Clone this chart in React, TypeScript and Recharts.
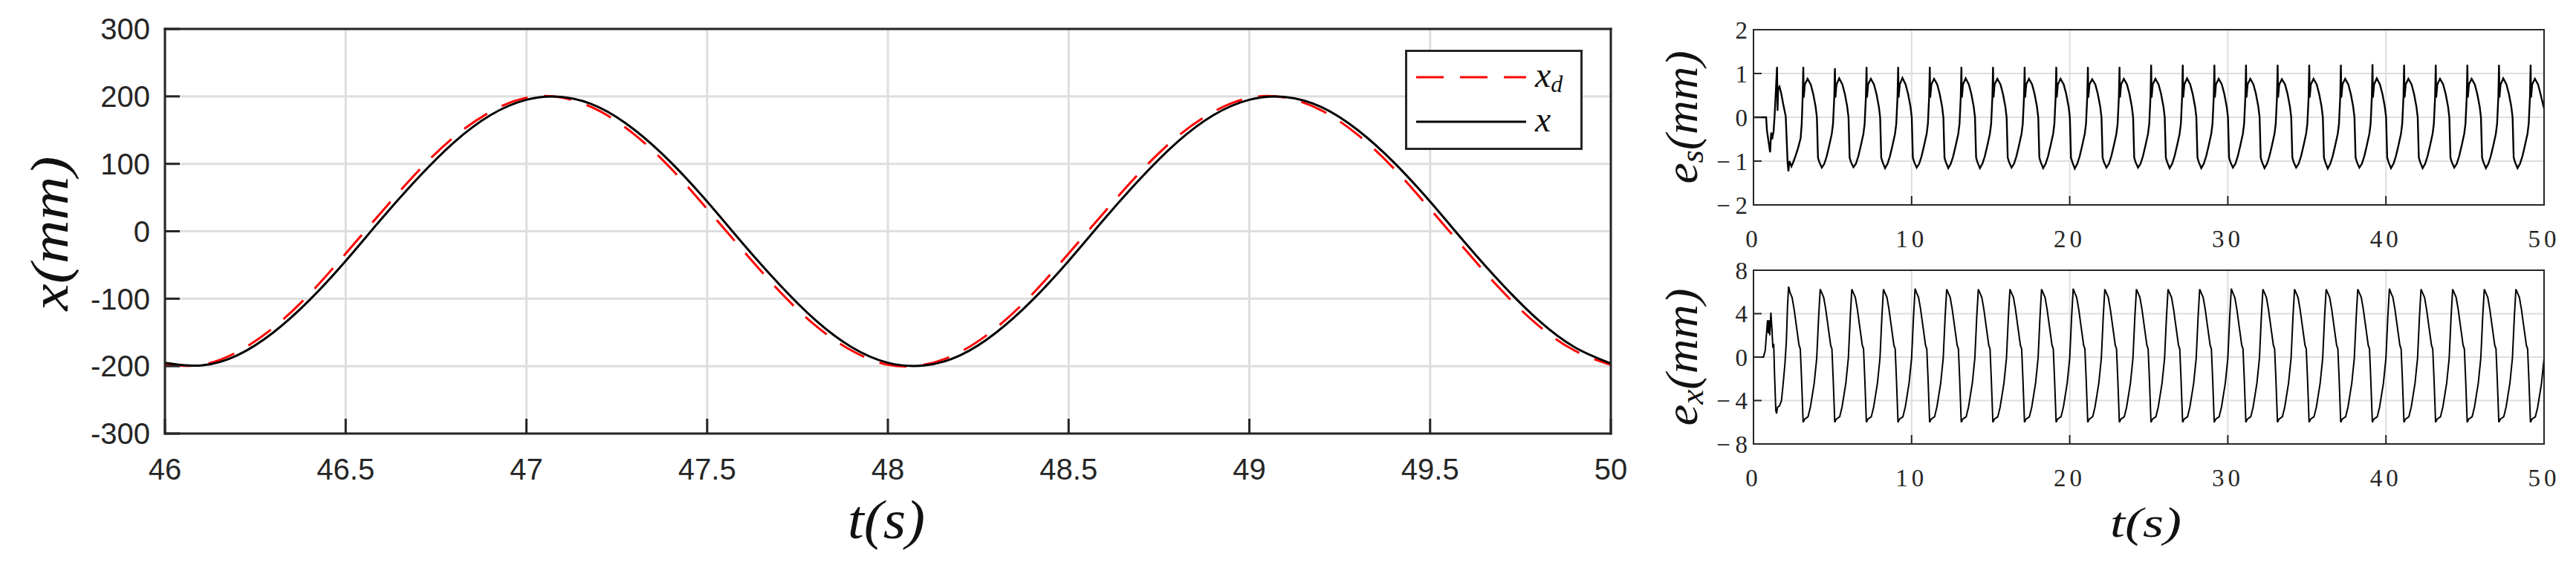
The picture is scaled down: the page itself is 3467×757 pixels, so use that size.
import { LineChart, Line, XAxis, YAxis, CartesianGrid, Legend, Label } from "recharts";

// main plot: desired vs measured position, 46..50 s
const tMain = [
  46.0, 46.1, 46.2, 46.3, 46.4, 46.5, 46.6, 46.7, 46.8, 46.9,
  47.0, 47.1, 47.2, 47.3, 47.4, 47.5, 47.6, 47.7, 47.8, 47.9,
  48.0, 48.1, 48.2, 48.3, 48.4, 48.5, 48.6, 48.7, 48.8, 48.9,
  49.0, 49.1, 49.2, 49.3, 49.4, 49.5, 49.6, 49.7, 49.8, 49.9,
  50.0,
];
const xDesired = [
  -198, -198, -179, -143, -93, -33, 29, 89, 140, 177,
  198, 198, 179, 143, 93, 33, -29, -89, -140, -177,
  -198, -198, -179, -143, -93, -33, 29, 89, 140, 177,
  198, 198, 179, 143, 93, 33, -29, -89, -140, -177,
  -198,
];
const xActual = [
  -195, -199, -184, -150, -102, -44, 19, 79, 132, 172,
  195, 199, 184, 150, 102, 44, -19, -79, -132, -172,
  -195, -199, -184, -150, -102, -44, 19, 79, 132, 172,
  195, 199, 184, 150, 102, 44, -19, -79, -132, -172,
  -196,
];
const mainXTicks = [46, 46.5, 47, 47.5, 48, 48.5, 49, 49.5, 50];
const mainYTicks = [-300, -200, -100, 0, 100, 200, 300];

// small plots, 0..50 s
const errTicks = [0, 10, 20, 30, 40, 50];
const esTicks = [-2, -1, 0, 1, 2];
const exTicks = [-8, -4, 0, 4, 8];

// e_s (mm), [t, value]
const esSamples: [number, number][] = [
  [0, 0], [0.8, 0], [0.85, -0.3], [0.95, -0.55], [1.05, -0.8], [1.12, -0.35], [1.18, -0.5], [1.27, -0.32], [1.33, 0], [1.4, 0.5],
  [1.49, 1.15], [1.52, 0.15], [1.56, 0.65], [1.64, 0.7], [1.75, 0.55], [1.88, 0.3], [2.04, 0.02], [2.16, -1.05], [2.21, -1.23], [2.27, -1.0],
  [2.4, -1.12], [2.51, -1.03], [2.66, -0.88], [2.82, -0.7], [2.98, -0.48], [3.05, -0.15], [3.11, 0.47],
  [3.15, 1.15], [3.18, 0.45], [3.25, 0.75], [3.42, 0.88], [3.62, 0.75], [3.78, 0.53], [3.93, 0.24], [4.01, 0], [4.08, -0.92], [4.16, -1.02], [4.32, -1.15], [4.48, -1.06], [4.63, -0.89], [4.78, -0.66], [4.95, -0.38], [5.03, -0.15], [5.11, 0.47],
  [5.15, 1.12], [5.18, 0.45], [5.25, 0.75], [5.42, 0.89], [5.62, 0.75], [5.78, 0.53], [5.93, 0.24], [6.01, 0], [6.08, -0.92], [6.16, -1.02], [6.32, -1.14], [6.48, -1.06], [6.63, -0.89], [6.78, -0.66], [6.95, -0.38], [7.03, -0.15], [7.11, 0.47],
  [7.15, 1.15], [7.18, 0.45], [7.25, 0.75], [7.42, 0.88], [7.62, 0.75], [7.78, 0.53], [7.93, 0.24], [8.01, 0], [8.08, -0.92], [8.16, -1.02], [8.32, -1.16], [8.48, -1.06], [8.63, -0.89], [8.78, -0.66], [8.95, -0.38], [9.03, -0.15], [9.11, 0.47],
  [9.15, 1.15], [9.18, 0.45], [9.25, 0.75], [9.42, 0.9], [9.62, 0.75], [9.78, 0.53], [9.93, 0.24], [10.01, 0], [10.08, -0.92], [10.16, -1.02], [10.32, -1.15], [10.48, -1.06], [10.63, -0.89], [10.78, -0.66], [10.95, -0.38], [11.03, -0.15], [11.11, 0.47],
  [11.15, 1.15], [11.18, 0.45], [11.25, 0.75], [11.42, 0.88], [11.62, 0.75], [11.78, 0.53], [11.93, 0.24], [12.01, 0], [12.08, -0.92], [12.16, -1.02], [12.32, -1.16], [12.48, -1.06], [12.63, -0.89], [12.78, -0.66], [12.95, -0.38], [13.03, -0.15], [13.11, 0.47],
  [13.15, 1.15], [13.18, 0.45], [13.25, 0.75], [13.42, 0.89], [13.62, 0.75], [13.78, 0.53], [13.93, 0.24], [14.01, 0], [14.08, -0.92], [14.16, -1.02], [14.32, -1.16], [14.48, -1.06], [14.63, -0.89], [14.78, -0.66], [14.95, -0.38], [15.03, -0.15], [15.11, 0.47],
  [15.15, 1.15], [15.18, 0.45], [15.25, 0.75], [15.42, 0.88], [15.62, 0.75], [15.78, 0.53], [15.93, 0.24], [16.01, 0], [16.08, -0.92], [16.16, -1.02], [16.32, -1.15], [16.48, -1.06], [16.63, -0.89], [16.78, -0.66], [16.95, -0.38], [17.03, -0.15], [17.11, 0.47],
  [17.15, 1.15], [17.18, 0.45], [17.25, 0.75], [17.42, 0.88], [17.62, 0.75], [17.78, 0.53], [17.93, 0.24], [18.01, 0], [18.08, -0.92], [18.16, -1.02], [18.32, -1.16], [18.48, -1.06], [18.63, -0.89], [18.78, -0.66], [18.95, -0.38], [19.03, -0.15], [19.11, 0.47],
  [19.15, 1.15], [19.18, 0.45], [19.25, 0.75], [19.42, 0.88], [19.62, 0.75], [19.78, 0.53], [19.93, 0.24], [20.01, 0], [20.08, -0.92], [20.16, -1.02], [20.32, -1.17], [20.48, -1.06], [20.63, -0.89], [20.78, -0.66], [20.95, -0.38], [21.03, -0.15], [21.11, 0.47],
  [21.15, 1.15], [21.18, 0.45], [21.25, 0.75], [21.42, 0.87], [21.62, 0.75], [21.78, 0.53], [21.93, 0.24], [22.01, 0], [22.08, -0.92], [22.16, -1.02], [22.32, -1.15], [22.48, -1.06], [22.63, -0.89], [22.78, -0.66], [22.95, -0.38], [23.03, -0.15], [23.11, 0.47],
  [23.15, 1.15], [23.18, 0.45], [23.25, 0.75], [23.42, 0.88], [23.62, 0.75], [23.78, 0.53], [23.93, 0.24], [24.01, 0], [24.08, -0.92], [24.16, -1.02], [24.32, -1.15], [24.48, -1.06], [24.63, -0.89], [24.78, -0.66], [24.95, -0.38], [25.03, -0.15], [25.11, 0.47],
  [25.15, 1.2], [25.18, 0.45], [25.25, 0.75], [25.42, 0.88], [25.62, 0.75], [25.78, 0.53], [25.93, 0.24], [26.01, 0], [26.08, -0.92], [26.16, -1.02], [26.32, -1.16], [26.48, -1.06], [26.63, -0.89], [26.78, -0.66], [26.95, -0.38], [27.03, -0.15], [27.11, 0.47],
  [27.15, 1.2], [27.18, 0.45], [27.25, 0.75], [27.42, 0.89], [27.62, 0.75], [27.78, 0.53], [27.93, 0.24], [28.01, 0], [28.08, -0.92], [28.16, -1.02], [28.32, -1.16], [28.48, -1.06], [28.63, -0.89], [28.78, -0.66], [28.95, -0.38], [29.03, -0.15], [29.11, 0.47],
  [29.15, 1.2], [29.18, 0.45], [29.25, 0.75], [29.42, 0.88], [29.62, 0.75], [29.78, 0.53], [29.93, 0.24], [30.01, 0], [30.08, -0.92], [30.16, -1.02], [30.32, -1.15], [30.48, -1.06], [30.63, -0.89], [30.78, -0.66], [30.95, -0.38], [31.03, -0.15], [31.11, 0.47],
  [31.15, 1.2], [31.18, 0.45], [31.25, 0.75], [31.42, 0.88], [31.62, 0.75], [31.78, 0.53], [31.93, 0.24], [32.01, 0], [32.08, -0.92], [32.16, -1.02], [32.32, -1.16], [32.48, -1.06], [32.63, -0.89], [32.78, -0.66], [32.95, -0.38], [33.03, -0.15], [33.11, 0.47],
  [33.15, 1.2], [33.18, 0.45], [33.25, 0.75], [33.42, 0.87], [33.62, 0.75], [33.78, 0.53], [33.93, 0.24], [34.01, 0], [34.08, -0.92], [34.16, -1.02], [34.32, -1.15], [34.48, -1.06], [34.63, -0.89], [34.78, -0.66], [34.95, -0.38], [35.03, -0.15], [35.11, 0.47],
  [35.15, 1.2], [35.18, 0.45], [35.25, 0.75], [35.42, 0.88], [35.62, 0.75], [35.78, 0.53], [35.93, 0.24], [36.01, 0], [36.08, -0.92], [36.16, -1.02], [36.32, -1.17], [36.48, -1.06], [36.63, -0.89], [36.78, -0.66], [36.95, -0.38], [37.03, -0.15], [37.11, 0.47],
  [37.15, 1.2], [37.18, 0.45], [37.25, 0.75], [37.42, 0.88], [37.62, 0.75], [37.78, 0.53], [37.93, 0.24], [38.01, 0], [38.08, -0.92], [38.16, -1.02], [38.32, -1.15], [38.48, -1.06], [38.63, -0.89], [38.78, -0.66], [38.95, -0.38], [39.03, -0.15], [39.11, 0.47],
  [39.15, 1.21], [39.18, 0.45], [39.25, 0.75], [39.42, 0.89], [39.62, 0.75], [39.78, 0.53], [39.93, 0.24], [40.01, 0], [40.08, -0.92], [40.16, -1.02], [40.32, -1.16], [40.48, -1.06], [40.63, -0.89], [40.78, -0.66], [40.95, -0.38], [41.03, -0.15], [41.11, 0.47],
  [41.15, 1.2], [41.18, 0.45], [41.25, 0.75], [41.42, 0.88], [41.62, 0.75], [41.78, 0.53], [41.93, 0.24], [42.01, 0], [42.08, -0.92], [42.16, -1.02], [42.32, -1.16], [42.48, -1.06], [42.63, -0.89], [42.78, -0.66], [42.95, -0.38], [43.03, -0.15], [43.11, 0.47],
  [43.15, 1.2], [43.18, 0.45], [43.25, 0.75], [43.42, 0.88], [43.62, 0.75], [43.78, 0.53], [43.93, 0.24], [44.01, 0], [44.08, -0.92], [44.16, -1.02], [44.32, -1.15], [44.48, -1.06], [44.63, -0.89], [44.78, -0.66], [44.95, -0.38], [45.03, -0.15], [45.11, 0.47],
  [45.15, 1.2], [45.18, 0.45], [45.25, 0.75], [45.42, 0.88], [45.62, 0.75], [45.78, 0.53], [45.93, 0.24], [46.01, 0], [46.08, -0.92], [46.16, -1.02], [46.32, -1.16], [46.48, -1.06], [46.63, -0.89], [46.78, -0.66], [46.95, -0.38], [47.03, -0.15], [47.11, 0.47],
  [47.15, 1.2], [47.18, 0.45], [47.25, 0.75], [47.42, 0.89], [47.62, 0.75], [47.78, 0.53], [47.93, 0.24], [48.01, 0], [48.08, -0.92], [48.16, -1.02], [48.32, -1.16], [48.48, -1.06], [48.63, -0.89], [48.78, -0.66], [48.95, -0.38], [49.03, -0.15], [49.11, 0.47],
  [49.15, 1.2], [49.18, 0.45], [49.25, 0.75], [49.42, 0.88], [49.62, 0.75], [49.78, 0.53], [49.93, 0.3], [50, 0.2],
];

// e_x (mm), [t, value]
const exSamples: [number, number][] = [
  [0, 0], [0.63, 0], [0.74, 0.6], [0.82, 2.1], [0.89, 3.4], [0.94, 2.2], [0.99, 3.4], [1.03, 2.0], [1.1, 4.1], [1.17, 2.5], [1.22, 1.0],
  [1.28, 1.1], [1.33, -1.5], [1.41, -4.9], [1.46, -5.2], [1.52, -4.6], [1.64, -4.5], [1.77, -4.0], [1.88, -2.4], [1.99, -0.6], [2.08, 1.5], [2.15, 4.6],
  [2.22, 6.5], [2.32, 5.9], [2.44, 5.5], [2.57, 4.4], [2.72, 2.8], [2.88, 1.1], [2.96, 0.75], [3.04, -2], [3.14, -6], [3.24, -5.7], [3.45, -5.5], [3.6, -4.6], [3.84, -2.4], [4, -0.1], [4.12, 3.7],
  [4.22, 6.25], [4.32, 5.9], [4.44, 5.5], [4.57, 4.4], [4.72, 2.8], [4.88, 1.1], [4.96, 0.75], [5.04, -2], [5.14, -6], [5.24, -5.7], [5.45, -5.5], [5.6, -4.6], [5.84, -2.4], [6, -0.1], [6.12, 3.7],
  [6.22, 6.25], [6.32, 5.9], [6.44, 5.5], [6.57, 4.4], [6.72, 2.8], [6.88, 1.1], [6.96, 0.75], [7.04, -2], [7.14, -6], [7.24, -5.7], [7.45, -5.5], [7.6, -4.6], [7.84, -2.4], [8, -0.1], [8.12, 3.7],
  [8.22, 6.25], [8.32, 5.9], [8.44, 5.5], [8.57, 4.4], [8.72, 2.8], [8.88, 1.1], [8.96, 0.75], [9.04, -2], [9.14, -6], [9.24, -5.7], [9.45, -5.5], [9.6, -4.6], [9.84, -2.4], [10, -0.1], [10.12, 3.7],
  [10.22, 6.3], [10.32, 5.9], [10.44, 5.5], [10.57, 4.4], [10.72, 2.8], [10.88, 1.1], [10.96, 0.75], [11.04, -2], [11.14, -6], [11.24, -5.7], [11.45, -5.5], [11.6, -4.6], [11.84, -2.4], [12, -0.1], [12.12, 3.7],
  [12.22, 6.25], [12.32, 5.9], [12.44, 5.5], [12.57, 4.4], [12.72, 2.8], [12.88, 1.1], [12.96, 0.75], [13.04, -2], [13.14, -6], [13.24, -5.7], [13.45, -5.5], [13.6, -4.6], [13.84, -2.4], [14, -0.1], [14.12, 3.7],
  [14.22, 6.25], [14.32, 5.9], [14.44, 5.5], [14.57, 4.4], [14.72, 2.8], [14.88, 1.1], [14.96, 0.75], [15.04, -2], [15.14, -6], [15.24, -5.7], [15.45, -5.5], [15.6, -4.6], [15.84, -2.4], [16, -0.1], [16.12, 3.7],
  [16.22, 6.25], [16.32, 5.9], [16.44, 5.5], [16.57, 4.4], [16.72, 2.8], [16.88, 1.1], [16.96, 0.75], [17.04, -2], [17.14, -6], [17.24, -5.7], [17.45, -5.5], [17.6, -4.6], [17.84, -2.4], [18, -0.1], [18.12, 3.7],
  [18.22, 6.25], [18.32, 5.9], [18.44, 5.5], [18.57, 4.4], [18.72, 2.8], [18.88, 1.1], [18.96, 0.75], [19.04, -2], [19.14, -6], [19.24, -5.7], [19.45, -5.5], [19.6, -4.6], [19.84, -2.4], [20, -0.1], [20.12, 3.7],
  [20.22, 6.3], [20.32, 5.9], [20.44, 5.5], [20.57, 4.4], [20.72, 2.8], [20.88, 1.1], [20.96, 0.75], [21.04, -2], [21.14, -6], [21.24, -5.7], [21.45, -5.5], [21.6, -4.6], [21.84, -2.4], [22, -0.1], [22.12, 3.7],
  [22.22, 6.25], [22.32, 5.9], [22.44, 5.5], [22.57, 4.4], [22.72, 2.8], [22.88, 1.1], [22.96, 0.75], [23.04, -2], [23.14, -6], [23.24, -5.7], [23.45, -5.5], [23.6, -4.6], [23.84, -2.4], [24, -0.1], [24.12, 3.7],
  [24.22, 6.25], [24.32, 5.9], [24.44, 5.5], [24.57, 4.4], [24.72, 2.8], [24.88, 1.1], [24.96, 0.75], [25.04, -2], [25.14, -6], [25.24, -5.7], [25.45, -5.5], [25.6, -4.6], [25.84, -2.4], [26, -0.1], [26.12, 3.7],
  [26.22, 6.25], [26.32, 5.9], [26.44, 5.5], [26.57, 4.4], [26.72, 2.8], [26.88, 1.1], [26.96, 0.75], [27.04, -2], [27.14, -6], [27.24, -5.7], [27.45, -5.5], [27.6, -4.6], [27.84, -2.4], [28, -0.1], [28.12, 3.7],
  [28.22, 6.25], [28.32, 5.9], [28.44, 5.5], [28.57, 4.4], [28.72, 2.8], [28.88, 1.1], [28.96, 0.75], [29.04, -2], [29.14, -6], [29.24, -5.7], [29.45, -5.5], [29.6, -4.6], [29.84, -2.4], [30, -0.1], [30.12, 3.7],
  [30.22, 6.3], [30.32, 5.9], [30.44, 5.5], [30.57, 4.4], [30.72, 2.8], [30.88, 1.1], [30.96, 0.75], [31.04, -2], [31.14, -6], [31.24, -5.7], [31.45, -5.5], [31.6, -4.6], [31.84, -2.4], [32, -0.1], [32.12, 3.7],
  [32.22, 6.25], [32.32, 5.9], [32.44, 5.5], [32.57, 4.4], [32.72, 2.8], [32.88, 1.1], [32.96, 0.75], [33.04, -2], [33.14, -6], [33.24, -5.7], [33.45, -5.5], [33.6, -4.6], [33.84, -2.4], [34, -0.1], [34.12, 3.7],
  [34.22, 6.25], [34.32, 5.9], [34.44, 5.5], [34.57, 4.4], [34.72, 2.8], [34.88, 1.1], [34.96, 0.75], [35.04, -2], [35.14, -6], [35.24, -5.7], [35.45, -5.5], [35.6, -4.6], [35.84, -2.4], [36, -0.1], [36.12, 3.7],
  [36.22, 6.25], [36.32, 5.9], [36.44, 5.5], [36.57, 4.4], [36.72, 2.8], [36.88, 1.1], [36.96, 0.75], [37.04, -2], [37.14, -6], [37.24, -5.7], [37.45, -5.5], [37.6, -4.6], [37.84, -2.4], [38, -0.1], [38.12, 3.7],
  [38.22, 6.25], [38.32, 5.9], [38.44, 5.5], [38.57, 4.4], [38.72, 2.8], [38.88, 1.1], [38.96, 0.75], [39.04, -2], [39.14, -6], [39.24, -5.7], [39.45, -5.5], [39.6, -4.6], [39.84, -2.4], [40, -0.1], [40.12, 3.7],
  [40.22, 6.3], [40.32, 5.9], [40.44, 5.5], [40.57, 4.4], [40.72, 2.8], [40.88, 1.1], [40.96, 0.75], [41.04, -2], [41.14, -6], [41.24, -5.7], [41.45, -5.5], [41.6, -4.6], [41.84, -2.4], [42, -0.1], [42.12, 3.7],
  [42.22, 6.25], [42.32, 5.9], [42.44, 5.5], [42.57, 4.4], [42.72, 2.8], [42.88, 1.1], [42.96, 0.75], [43.04, -2], [43.14, -6], [43.24, -5.7], [43.45, -5.5], [43.6, -4.6], [43.84, -2.4], [44, -0.1], [44.12, 3.7],
  [44.22, 6.25], [44.32, 5.9], [44.44, 5.5], [44.57, 4.4], [44.72, 2.8], [44.88, 1.1], [44.96, 0.75], [45.04, -2], [45.14, -6], [45.24, -5.7], [45.45, -5.5], [45.6, -4.6], [45.84, -2.4], [46, -0.1], [46.12, 3.7],
  [46.22, 6.25], [46.32, 5.9], [46.44, 5.5], [46.57, 4.4], [46.72, 2.8], [46.88, 1.1], [46.96, 0.75], [47.04, -2], [47.14, -6], [47.24, -5.7], [47.45, -5.5], [47.6, -4.6], [47.84, -2.4], [48, -0.1], [48.12, 3.7],
  [48.22, 6.25], [48.32, 5.9], [48.44, 5.5], [48.57, 4.4], [48.72, 2.8], [48.88, 1.1], [48.96, 0.75], [49.04, -2], [49.14, -6], [49.24, -5.7], [49.45, -5.5], [49.6, -4.6], [49.84, -2.4], [50, -0.1],
];

const mainData = tMain.map((t, i) => ({ t, xd: xDesired[i], x: xActual[i] }));
const esData = esSamples.map(([t, v]) => ({ t, v }));
const exData = exSamples.map(([t, v]) => ({ t, v }));

// legend order as in the figure: x_d first
const legendOrder = ["xd", "x"];

const AXIS = "#262626";
const GRID = "#dedede";
const SANS = "'Liberation Sans', Arial, sans-serif";
const SERIF = "'Liberation Serif', 'Times New Roman', serif";

const fmtMinus = (v: number) => (v < 0 ? `\u2212\u2009${-v}` : `${v}`);

type MathProps = {
  x: number;
  y: number;
  size: number;
  length: number;
  rotate?: boolean;
  main: string;
  sub?: string;
  rest: string;
};

function MathText({ x, y, size, length, rotate, main, sub, rest }: MathProps) {
  const shift = size * 0.22;
  return (
    <text
      x={x}
      y={y}
      fontFamily={SERIF}
      fontStyle="italic"
      fontSize={size}
      fill="#111"
      textAnchor="middle"
      dominantBaseline="central"
      textLength={length}
      lengthAdjust="spacingAndGlyphs"
      transform={rotate ? `rotate(-90 ${x} ${y})` : undefined}
    >
      {main}
      {sub ? (
        <>
          <tspan fontSize={size * 0.7} dy={shift}>{sub}</tspan>
          <tspan dy={-shift}>{rest}</tspan>
        </>
      ) : (
        rest
      )}
    </text>
  );
}

// axis box handed to a Label, with a fallback
const vbOf = (p: any, fb: { x: number; y: number; width: number; height: number }) => {
  const vb = p && p.viewBox;
  return vb && typeof vb.x === "number" && typeof vb.width === "number" ? vb : fb;
};

function LegendBox({ payload }: any) {
  const items = [...(payload || [])].sort(
    (a: any, b: any) => legendOrder.indexOf(a.dataKey) - legendOrder.indexOf(b.dataKey)
  );
  return (
    <svg width={240} height={136} style={{ display: "block" }}>
      <rect x={1.5} y={1.5} width={236} height={132} fill="#fff" stroke={AXIS} strokeWidth={3} />
      {items.map((e: any, i: number) => {
        const dash = e.payload && e.payload.strokeDasharray;
        const [base, sub] = String(e.value).split("_");
        const ly = 37 + i * 60;
        return (
          <g key={i}>
            <line x1={15} x2={163} y1={ly} y2={ly} stroke={e.color} strokeWidth={3} strokeDasharray={dash} />
            <text x={175} y={ly + 13} fontFamily={SERIF} fontStyle="italic" fontSize={48} fill="#111">
              {base}
              {sub ? (
                <tspan fontSize={32} dy={7}>{sub}</tspan>
              ) : null}
            </text>
          </g>
        );
      })}
    </svg>
  );
}

function MainChart() {
  const axisLine = { stroke: AXIS, strokeWidth: 3, strokeLinecap: "square" as const };
  const tickLine = { stroke: AXIS, strokeWidth: 3 };
  const tickFont = { fontFamily: SANS, fontSize: 40, fill: AXIS };
  return (
    <LineChart width={2200} height={757} data={mainData} margin={{ top: 0, right: 0, bottom: 0, left: 0 }}>
      <CartesianGrid stroke={GRID} strokeWidth={3} />
      <XAxis
        dataKey="t"
        type="number"
        domain={[46, 50]}
        ticks={mainXTicks}
        interval={0}
        height={173}
        tickSize={-20}
        tickMargin={54}
        axisLine={axisLine}
        tickLine={tickLine}
        tick={tickFont}
        allowDataOverflow
      >
        <Label
          content={(p: any) => {
            const vb = vbOf(p, { x: 222, y: 584, width: 1946, height: 173 });
            return <MathText x={vb.x + vb.width / 2 - 2} y={vb.y + 116} size={74} length={104} main="t" rest="(s)" />;
          }}
        />
      </XAxis>
      <XAxis
        xAxisId="top"
        orientation="top"
        type="number"
        domain={[46, 50]}
        ticks={mainXTicks}
        interval={0}
        height={39}
        tickSize={-20}
        axisLine={axisLine}
        tickLine={tickLine}
        tick={false}
        allowDataOverflow
      />
      <YAxis
        type="number"
        domain={[-300, 300]}
        ticks={mainYTicks}
        interval={0}
        width={222}
        tickSize={-20}
        tickMargin={40}
        axisLine={axisLine}
        tickLine={tickLine}
        tick={tickFont}
        allowDataOverflow
      >
        <Label
          content={(p: any) => {
            const vb = vbOf(p, { x: 0, y: 39, width: 222, height: 545 });
            return <MathText x={vb.x + 67} y={vb.y + vb.height / 2 + 3} size={72} length={208} rotate main="x" rest="(mm)" />;
          }}
        />
      </YAxis>
      <YAxis
        yAxisId="right"
        orientation="right"
        type="number"
        domain={[-300, 300]}
        ticks={mainYTicks}
        interval={0}
        width={32}
        tickSize={-20}
        axisLine={axisLine}
        tickLine={tickLine}
        tick={false}
        allowDataOverflow
      />
      <Legend
        layout="horizontal"
        verticalAlign="middle"
        align="center"
        itemSorter={(item: any) => legendOrder.indexOf(item.dataKey)}
        content={<LegendBox />}
        wrapperStyle={{ position: "absolute", left: 1891, top: 67, width: 240, height: 136 }}
      />
      <Line
        name="x_d"
        dataKey="xd"
        type="natural"
        stroke="#ff0000"
        strokeWidth={3}
        strokeDasharray="37 22"
        dot={false}
        isAnimationActive={false}
      />
      <Line name="x" dataKey="x" type="natural" stroke="#000" strokeWidth={3} dot={false} isAnimationActive={false} />
    </LineChart>
  );
}

type ErrProps = {
  data: { t: number; v: number }[];
  yTicks: number[];
  height: number;
  topH: number;
  bottomH: number;
  sub: string;
  labelLen: number;
  showTime: boolean;
  lineW: number;
};

function ErrorChart({ data, yTicks, height, topH, bottomH, sub, labelLen, showTime, lineW }: ErrProps) {
  const axisLine = { stroke: AXIS, strokeWidth: 2, strokeLinecap: "square" as const };
  const tickLine = { stroke: AXIS, strokeWidth: 2 };
  const tickFont = { fontFamily: SERIF, fontSize: 33, fill: AXIS };
  const yDomain = [yTicks[0], yTicks[yTicks.length - 1]];
  return (
    <LineChart width={1287} height={height} data={data} margin={{ top: 0, right: 0, bottom: 0, left: 0 }}>
      <CartesianGrid stroke={GRID} strokeWidth={2} />
      <XAxis
        dataKey="t"
        type="number"
        domain={[0, 50]}
        ticks={errTicks}
        interval={0}
        height={bottomH}
        tickSize={-12}
        tickMargin={46}
        axisLine={axisLine}
        tickLine={tickLine}
        tick={{ ...tickFont, letterSpacing: 5 }}
        allowDataOverflow
      >
        {showTime ? (
          <Label
            content={(p: any) => {
              const vb = vbOf(p, { x: 180, y: 258, width: 1064, height: 159 });
              return <MathText x={vb.x + vb.width / 2 - 4} y={vb.y + 105} size={58} length={96} main="t" rest="(s)" />;
            }}
          />
        ) : null}
      </XAxis>
      <XAxis
        xAxisId="top"
        orientation="top"
        type="number"
        domain={[0, 50]}
        ticks={errTicks}
        interval={0}
        height={topH}
        tickSize={-12}
        axisLine={axisLine}
        tickLine={tickLine}
        tick={false}
        allowDataOverflow
      />
      <YAxis
        type="number"
        domain={yDomain}
        ticks={yTicks}
        interval={0}
        width={180}
        tickSize={-11}
        tickMargin={19}
        axisLine={axisLine}
        tickLine={tickLine}
        tick={tickFont}
        tickFormatter={fmtMinus}
        allowDataOverflow
      >
        <Label
          content={(p: any) => {
            const vb = vbOf(p, { x: 0, y: topH, width: 180, height: height - topH - bottomH });
            return (
              <MathText x={vb.x + 83} y={vb.y + vb.height / 2} size={62} length={labelLen} rotate main="e" sub={sub} rest="(mm)" />
            );
          }}
        />
      </YAxis>
      <YAxis
        yAxisId="right"
        orientation="right"
        type="number"
        domain={yDomain}
        ticks={yTicks}
        interval={0}
        width={43}
        tickSize={-11}
        axisLine={axisLine}
        tickLine={tickLine}
        tick={false}
        allowDataOverflow
      />
      <Line dataKey="v" type="linear" stroke="#000" strokeWidth={lineW} dot={false} isAnimationActive={false} />
    </LineChart>
  );
}

export default function App() {
  return (
    <div style={{ position: "absolute", left: 0, top: 0, width: 3467, height: 757, background: "#fff", overflow: "hidden" }}>
      <div style={{ position: "absolute", left: 0, top: 0 }}>
        <MainChart />
      </div>
      <div style={{ position: "absolute", left: 2180, top: 0 }}>
        <ErrorChart data={esData} yTicks={esTicks} height={340} topH={40} bottomH={64} sub="s" labelLen={179} showTime={false} lineW={2.4} />
      </div>
      <div style={{ position: "absolute", left: 2180, top: 340 }}>
        <ErrorChart data={exData} yTicks={exTicks} height={417} topH={24} bottomH={159} sub="x" labelLen={185} showTime lineW={2} />
      </div>
    </div>
  );
}
